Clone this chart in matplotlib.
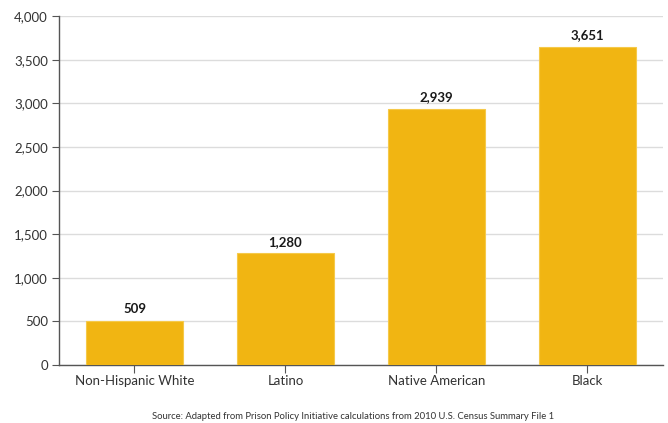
import matplotlib
matplotlib.use("Agg")
import matplotlib.pyplot as plt
from matplotlib.ticker import FuncFormatter

categories = ["Non-Hispanic White", "Latino", "Native American", "Black"]
values = [509, 1280, 2939, 3651]
yticks = [0, 500, 1000, 1500, 2000, 2500, 3000, 3500, 4000]
source = "Source: Adapted from Prison Policy Initiative calculations from 2010 U.S. Census Summary File 1"

plt.rcParams["font.family"] = ["Lato", "DejaVu Sans"]

fig = plt.figure(figsize=(6.68, 4.23), dpi=100)
ax = fig.add_axes([0.0883, 0.137, 0.9042, 0.825])

x = range(len(categories))
bars = ax.bar(x, values, width=0.64, color="#F1B512", edgecolor="#F5C94A", linewidth=0.8, zorder=3)

for xi, v in zip(x, values):
    ax.text(xi, v + 60, f"{v:,}", ha="center", va="bottom", fontsize=9.5,
            fontweight="bold", color="#1a1a1a", zorder=4)

ax.set_xlim(-0.5, 3.5)
ax.set_ylim(0, 4000)
ax.set_yticks(yticks)
ax.yaxis.set_major_formatter(FuncFormatter(lambda v, p: f"{int(v):,}"))
ax.set_xticks(list(x))
ax.set_xticklabels(categories)

ax.grid(axis="y", color="#dcdcdc", linewidth=1.0, zorder=0)
for s in ["top", "right"]:
    ax.spines[s].set_visible(False)
for s in ["left", "bottom"]:
    ax.spines[s].set_color("#555555")
    ax.spines[s].set_linewidth(1.0)

ax.tick_params(axis="y", length=5, color="#555555", labelsize=9.5, labelcolor="#333333", pad=3)
ax.tick_params(axis="x", length=6, color="#555555", labelsize=9.5, labelcolor="#333333", pad=1)

fig.text(0.528, 0.004, source, ha="center", va="bottom", fontsize=6.85, color="#333333")

fig.savefig("out.png", dpi=100)
